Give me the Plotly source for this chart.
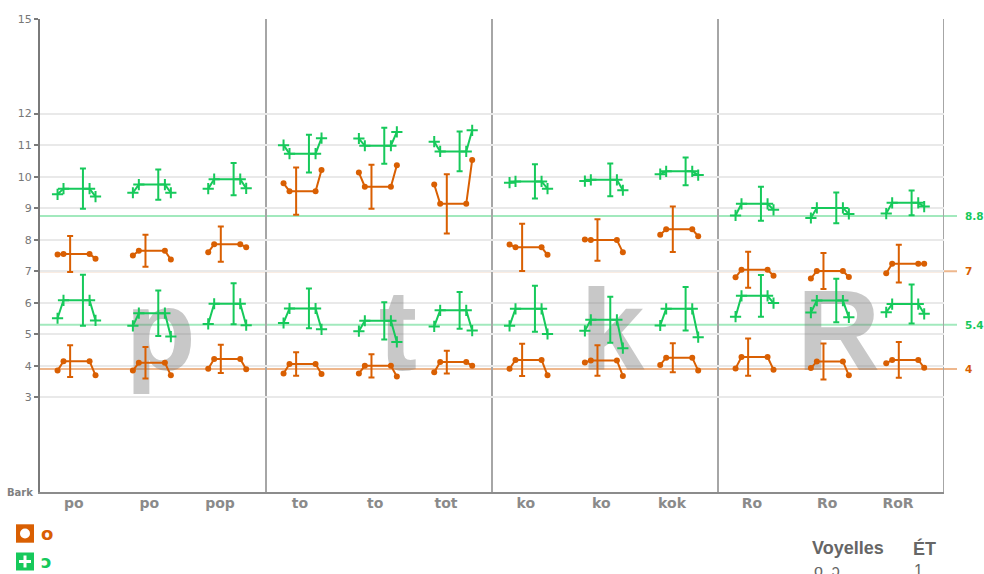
import plotly.graph_objects as go

# ---------------- data ----------------
categories = ["po", "po", "pop", "to", "to", "tot", "ko", "ko", "kok", "Ro", "Ro", "RoR"]
consonants = ["p", "t", "k", "R"]

# vowel /o/ (orange) – F2 and F1 trajectories (Bark): onset, steady, offset, std-dev
o_f2_onset = [7.53, 7.50, 7.60, 9.79, 10.13, 9.75, 7.85, 8.01, 8.16, 6.81, 6.77, 6.94]
o_f2_steady = [7.55, 7.65, 7.86, 9.54, 9.68, 9.14, 7.76, 7.99, 8.33, 7.05, 7.01, 7.24]
o_f2_offset = [7.40, 7.37, 7.76, 10.21, 10.36, 10.53, 7.52, 7.60, 8.11, 6.86, 6.82, 7.24]
o_f2_sd = [0.57, 0.51, 0.56, 0.75, 0.70, 0.94, 0.75, 0.66, 0.72, 0.57, 0.57, 0.60]

o_f1_onset = [3.85, 3.85, 3.91, 3.76, 3.76, 3.80, 3.91, 4.11, 4.03, 3.92, 3.93, 4.08]
o_f1_steady = [4.15, 4.10, 4.22, 4.06, 4.00, 4.12, 4.19, 4.17, 4.26, 4.28, 4.14, 4.19]
o_f1_offset = [3.70, 3.70, 3.89, 3.74, 3.66, 4.00, 3.70, 3.68, 3.85, 3.88, 3.70, 3.94]
o_f1_sd = [0.50, 0.50, 0.45, 0.37, 0.37, 0.36, 0.51, 0.48, 0.46, 0.59, 0.57, 0.57]

# vowel /ɔ/ (green)
c_f2_onset = [9.44, 9.49, 9.62, 11.00, 11.21, 11.11, 9.81, 9.86, 10.08, 8.77, 8.69, 8.83]
c_f2_steady = [9.62, 9.75, 9.92, 10.73, 10.98, 10.80, 9.85, 9.90, 10.17, 9.14, 9.01, 9.17]
c_f2_offset = [9.37, 9.49, 9.63, 11.22, 11.42, 11.47, 9.62, 9.57, 10.05, 8.95, 8.82, 9.05]
c_f2_sd = [0.64, 0.48, 0.51, 0.60, 0.57, 0.63, 0.54, 0.52, 0.44, 0.54, 0.49, 0.39]

c_f1_onset = [5.51, 5.27, 5.33, 5.36, 5.10, 5.25, 5.27, 5.11, 5.28, 5.56, 5.69, 5.70]
c_f1_steady = [6.08, 5.67, 5.97, 5.82, 5.43, 5.76, 5.81, 5.46, 5.81, 6.22, 6.07, 5.96]
c_f1_offset = [5.44, 4.93, 5.29, 5.16, 4.76, 5.12, 5.01, 4.56, 4.91, 5.99, 5.54, 5.65]
c_f1_sd = [0.81, 0.72, 0.65, 0.63, 0.59, 0.58, 0.73, 0.73, 0.69, 0.66, 0.69, 0.62]

# reference (mean) lines: value and label
ref_o_values = [7.0, 3.9]
ref_o_labels = ["7", "4"]
ref_c_values = [8.75, 5.3]
ref_c_labels = ["8.8", "5.4"]

y_ticks = [3, 4, 5, 6, 7, 8, 9, 10, 11, 12, 15]

# ---------------- style ----------------
ORANGE = "#d95f02"
GREEN = "#16c95b"
WIN_W, WIN_H = 984, 574
BODY = 0  # page margin removed by post script below
W, H = WIN_W - BODY, WIN_H - BODY
# plot area in window pixels
PL, PR, PT, PB = 40, 944, 19, 492
PW, PH = PR - PL, PB - PT
ML, MT = PL - BODY, PT - BODY
MR, MB = W - (PR - BODY), H - (PB - BODY)


def pxx(x):
    return (x - PL) / PW


def pxy(y):
    return (PB - y) / PH


n = len(categories)
unit = PW / n  # pixels per category slot


def glyph(onset, steady, offset):
    xs, ys = [], []
    for i in range(n):
        c = i + 0.5 - 0.015
        xs += [c - 0.252, c - 0.173, c + 0.173, c + 0.252, None]
        ys += [onset[i], steady[i], steady[i], offset[i], None]
    return xs, ys


fig = go.Figure()

# big consonant letters behind everything
letter_x = [3 * g + (1.75 if consonants[g] == "t" else 1.6) for g in range(len(consonants))]
fig.add_trace(go.Scatter(
    x=letter_x, y=[4.77] * len(consonants), text=consonants, mode="text",
    textposition="middle center",
    textfont=dict(family="Liberation Sans", size=115, weight="bold", color="rgba(128,128,128,0.43)"),
    hoverinfo="skip", showlegend=False))

series = [
    (ORANGE, "circle", 6, 0, -0.085, [(o_f2_onset, o_f2_steady, o_f2_offset, o_f2_sd),
                                     (o_f1_onset, o_f1_steady, o_f1_offset, o_f1_sd)]),
    (GREEN, "cross-thin", 8, 2, 0.085, [(c_f2_onset, c_f2_steady, c_f2_offset, c_f2_sd),
                                        (c_f1_onset, c_f1_steady, c_f1_offset, c_f1_sd)]),
]

for color, sym, size, lw, ebx, formants in series:
    for onset, steady, offset, sd in formants:
        fig.add_trace(go.Scatter(
            x=[i + 0.5 - 0.015 + ebx for i in range(n)], y=steady, mode="markers",
            marker=dict(size=0.1, color="rgba(0,0,0,0)"),
            error_y=dict(type="data", array=sd, symmetric=True, color=color, thickness=2, width=3),
            hoverinfo="skip", showlegend=False))
        xs, ys = glyph(onset, steady, offset)
        fig.add_trace(go.Scatter(
            x=xs, y=ys, mode="lines+markers", connectgaps=False,
            line=dict(color=color, width=2),
            marker=dict(symbol=sym, size=size, color=color, line=dict(color=color, width=lw)),
            hoverinfo="skip", showlegend=False))

# reference line markers at right
x_mark = n + (957 - PR) / unit
fig.add_trace(go.Scatter(x=[x_mark] * len(ref_c_values), y=ref_c_values, mode="markers",
                         marker=dict(symbol="cross-thin", size=8, color=GREEN, line=dict(color=GREEN, width=2)),
                         cliponaxis=False, showlegend=False, hoverinfo="skip"))
fig.add_trace(go.Scatter(x=[x_mark] * len(ref_o_values), y=ref_o_values, mode="markers",
                         marker=dict(symbol="circle", size=7, color=ORANGE),
                         cliponaxis=False, showlegend=False, hoverinfo="skip"))

shapes = []
annotations = []
for vals, labs, col, rgba in [(ref_c_values, ref_c_labels, GREEN, "rgba(22,201,91,0.4)"),
                              (ref_o_values, ref_o_labels, ORANGE, "rgba(217,95,2,0.45)")]:
    for v, lab in zip(vals, labs):
        shapes.append(dict(type="line", xref="paper", yref="y", x0=0, x1=pxx(957), y0=v, y1=v,
                           line=dict(color=rgba, width=2), layer="between"))
        annotations.append(dict(xref="paper", yref="y", x=pxx(964), y=v, text=lab, showarrow=False,
                                xanchor="left", yanchor="middle", borderpad=0,
                                font=dict(family="DejaVu Sans", size=10.5, color=col, weight="bold")))

# group separators + right border
for g in range(1, len(consonants) + 1):
    shapes.append(dict(type="line", xref="x", yref="paper", x0=3 * g, x1=3 * g, y0=0, y1=1,
                       line=dict(color="#a6a6a6", width=2), layer="between"))

# legend boxes
shapes.append(dict(type="rect", xref="paper", yref="paper", x0=pxx(16), x1=pxx(34), y0=pxy(542.7), y1=pxy(524.3),
                   fillcolor=ORANGE, line=dict(width=0)))
shapes.append(dict(type="circle", xref="paper", yref="paper", x0=pxx(20), x1=pxx(30), y0=pxy(538.5), y1=pxy(528.5),
                   fillcolor="white", line=dict(width=0)))
shapes.append(dict(type="rect", xref="paper", yref="paper", x0=pxx(16), x1=pxx(34), y0=pxy(570.5), y1=pxy(552.5),
                   fillcolor=GREEN, line=dict(width=0)))
shapes.append(dict(type="line", xref="paper", yref="paper", x0=pxx(19), x1=pxx(31), y0=pxy(561.5), y1=pxy(561.5),
                   line=dict(color="white", width=3)))
shapes.append(dict(type="line", xref="paper", yref="paper", x0=pxx(25), x1=pxx(25), y0=pxy(555.5), y1=pxy(567.5),
                   line=dict(color="white", width=3)))
annotations.append(dict(xref="paper", yref="paper", x=pxx(39), y=pxy(533.5), text="o", showarrow=False,
                        xanchor="left", yanchor="middle",
                        font=dict(family="DejaVu Sans", size=18, color=ORANGE, weight="bold")))
annotations.append(dict(xref="paper", yref="paper", x=pxx(39), y=pxy(561.5), text="ɔ", showarrow=False,
                        xanchor="left", yanchor="middle",
                        font=dict(family="DejaVu Sans", size=18, color=GREEN, weight="bold")))

# axis unit label
annotations.append(dict(xref="paper", yref="y", x=pxx(35), y=0, text="Bark", showarrow=False,
                        xanchor="right", yanchor="middle",
                        font=dict(family="DejaVu Sans", size=10, color="#808080", weight="bold")))

# info table bottom right
annotations.append(dict(xref="paper", yref="paper", x=pxx(810), y=pxy(548), text="Voyelles", showarrow=False,
                        xanchor="left", yanchor="middle",
                        font=dict(family="Liberation Sans", size=18, color="#666666", weight="bold")))
annotations.append(dict(xref="paper", yref="paper", x=pxx(911), y=pxy(548), text="ÉT", showarrow=False,
                        xanchor="left", yanchor="middle",
                        font=dict(family="Liberation Sans", size=18, color="#666666", weight="bold")))
annotations.append(dict(xref="paper", yref="paper", x=pxx(812), y=pxy(570), text="o, ɔ", showarrow=False,
                        xanchor="left", yanchor="middle",
                        font=dict(family="Liberation Sans", size=16, color="#666666")))
annotations.append(dict(xref="paper", yref="paper", x=pxx(912), y=pxy(570), text="1", showarrow=False,
                        xanchor="left", yanchor="middle",
                        font=dict(family="Liberation Sans", size=16, color="#666666")))

tick_x = [i + 0.5 - (0.11 if len(c) == 3 else 0.05) for i, c in enumerate(categories)]

fig.update_layout(
    width=W, height=H, margin=dict(l=ML, r=MR, t=MT, b=MB, pad=0, autoexpand=False),
    paper_bgcolor="white", plot_bgcolor="white",
    shapes=shapes, annotations=annotations, showlegend=False,
    xaxis=dict(range=[0, n], showgrid=False, zeroline=False, showline=True, linecolor="#8c8c8c", linewidth=2,
               tickvals=tick_x, ticktext=categories, ticks="", ticklabelstandoff=-3, automargin=False,
               tickfont=dict(family="DejaVu Sans", size=14, color="#8a8a8a", weight="bold")),
    yaxis=dict(range=[0, 15], tickvals=y_ticks, showgrid=True, gridcolor="#e9e9e9", gridwidth=2,
               zeroline=False, showline=True, linecolor="#7a7a7a", linewidth=2, automargin=False,
               ticks="outside", ticklen=4, tickwidth=2, tickcolor="#7a7a7a",
               tickfont=dict(family="DejaVu Sans", size=11, color="#777777")),
)

fig.write_html("out.html", config={"displayModeBar": False},
               post_script="document.body.style.margin='0';document.body.style.overflow='hidden';")
